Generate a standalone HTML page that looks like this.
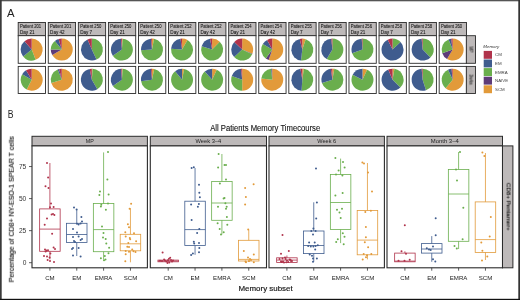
<!DOCTYPE html>
<html><head><meta charset="utf-8"><style>
html,body{margin:0;padding:0;background:#fff;}
body{width:520px;height:300px;overflow:hidden;}
svg{display:block;font-family:"Liberation Sans", sans-serif;}
text{will-change:transform;}
</style></head><body>
<svg width="520" height="300" viewBox="0 0 520 300">
<rect x="0" y="0" width="520" height="300" fill="#fff"/>
<text x="7" y="16.8" font-size="11.3" fill="#222">A</text>
<rect x="18.20" y="22.5" width="27.3" height="13.20" fill="#BDB9B9" stroke="#2b2b2b" stroke-width="0.9"/>
<text x="20.00" y="28.3" font-size="4.6" fill="#111" stroke="#111" stroke-width="0.06" textLength="21.2" lengthAdjust="spacingAndGlyphs">Patient 201</text>
<text x="20.00" y="33.5" font-size="4.6" fill="#111" stroke="#111" stroke-width="0.06">Day 21</text>
<rect x="18.20" y="35.7" width="27.3" height="27.60" fill="#fff" stroke="#2b2b2b" stroke-width="0.9"/>
<rect x="18.20" y="66.4" width="27.3" height="27.10" fill="#fff" stroke="#2b2b2b" stroke-width="0.9"/>
<path d="M31.70,49.60L31.70,38.60A11,11 0 0 1 35.64,59.87Z" fill="#E29A3A"/><path d="M31.70,49.60L35.64,59.87A11,11 0 0 1 23.15,56.52Z" fill="#6AAE4D"/><path d="M31.70,49.60L23.15,56.52A11,11 0 0 1 24.48,41.30Z" fill="#3F5C8E"/><path d="M31.70,49.60L24.48,41.30A11,11 0 0 1 31.70,38.60Z" fill="#B0334B"/>
<path d="M31.70,79.70L31.70,68.70A11,11 0 1 1 26.71,89.50Z" fill="#E29A3A"/><path d="M31.70,79.70L26.71,89.50A11,11 0 0 1 22.17,74.20Z" fill="#6AAE4D"/><path d="M31.70,79.70L22.17,74.20A11,11 0 0 1 26.03,70.27Z" fill="#3F5C8E"/><path d="M31.70,79.70L26.03,70.27A11,11 0 0 1 31.70,68.70Z" fill="#B0334B"/>
<rect x="48.27" y="22.5" width="27.3" height="13.20" fill="#BDB9B9" stroke="#2b2b2b" stroke-width="0.9"/>
<text x="50.07" y="28.3" font-size="4.6" fill="#111" stroke="#111" stroke-width="0.06" textLength="21.2" lengthAdjust="spacingAndGlyphs">Patient 201</text>
<text x="50.07" y="33.5" font-size="4.6" fill="#111" stroke="#111" stroke-width="0.06">Day 42</text>
<rect x="48.27" y="35.7" width="27.3" height="27.60" fill="#fff" stroke="#2b2b2b" stroke-width="0.9"/>
<rect x="48.27" y="66.4" width="27.3" height="27.10" fill="#fff" stroke="#2b2b2b" stroke-width="0.9"/>
<path d="M61.77,49.60L61.77,38.60A11,11 0 1 1 52.24,55.10Z" fill="#E29A3A"/><path d="M61.77,49.60L52.24,55.10A11,11 0 0 1 50.77,49.41Z" fill="#5E3B78"/><path d="M61.77,49.60L50.77,49.41A11,11 0 0 1 54.92,40.99Z" fill="#6AAE4D"/><path d="M61.77,49.60L54.92,40.99A11,11 0 0 1 58.55,39.08Z" fill="#3F5C8E"/><path d="M61.77,49.60L58.55,39.08A11,11 0 0 1 61.77,38.60Z" fill="#B0334B"/>
<path d="M61.77,79.70L61.77,68.70A11,11 0 1 1 51.25,82.92Z" fill="#E29A3A"/><path d="M61.77,79.70L51.25,82.92A11,11 0 0 1 57.65,69.50Z" fill="#6AAE4D"/><path d="M61.77,79.70L57.65,69.50A11,11 0 0 1 59.11,69.03Z" fill="#3F5C8E"/><path d="M61.77,79.70L59.11,69.03A11,11 0 0 1 61.77,68.70Z" fill="#B0334B"/>
<rect x="78.34" y="22.5" width="27.3" height="13.20" fill="#BDB9B9" stroke="#2b2b2b" stroke-width="0.9"/>
<text x="80.14" y="28.3" font-size="4.6" fill="#111" stroke="#111" stroke-width="0.06" textLength="21.2" lengthAdjust="spacingAndGlyphs">Patient 250</text>
<text x="80.14" y="33.5" font-size="4.6" fill="#111" stroke="#111" stroke-width="0.06">Day 7</text>
<rect x="78.34" y="35.7" width="27.3" height="27.60" fill="#fff" stroke="#2b2b2b" stroke-width="0.9"/>
<rect x="78.34" y="66.4" width="27.3" height="27.10" fill="#fff" stroke="#2b2b2b" stroke-width="0.9"/>
<path d="M91.84,49.60L91.84,38.60A11,11 0 0 1 96.49,59.57Z" fill="#6AAE4D"/><path d="M91.84,49.60L96.49,59.57A11,11 0 1 1 87.54,39.47Z" fill="#3F5C8E"/><path d="M91.84,49.60L87.54,39.47A11,11 0 0 1 91.84,38.60Z" fill="#B0334B"/>
<path d="M91.84,79.70L91.84,68.70A11,11 0 0 1 92.61,68.73Z" fill="#E29A3A"/><path d="M91.84,79.70L92.61,68.73A11,11 0 0 1 97.34,89.23Z" fill="#6AAE4D"/><path d="M91.84,79.70L97.34,89.23A11,11 0 1 1 89.74,68.90Z" fill="#3F5C8E"/><path d="M91.84,79.70L89.74,68.90A11,11 0 0 1 91.84,68.70Z" fill="#B0334B"/>
<rect x="108.41" y="22.5" width="27.3" height="13.20" fill="#BDB9B9" stroke="#2b2b2b" stroke-width="0.9"/>
<text x="110.21" y="28.3" font-size="4.6" fill="#111" stroke="#111" stroke-width="0.06" textLength="21.2" lengthAdjust="spacingAndGlyphs">Patient 250</text>
<text x="110.21" y="33.5" font-size="4.6" fill="#111" stroke="#111" stroke-width="0.06">Day 21</text>
<rect x="108.41" y="35.7" width="27.3" height="27.60" fill="#fff" stroke="#2b2b2b" stroke-width="0.9"/>
<rect x="108.41" y="66.4" width="27.3" height="27.10" fill="#fff" stroke="#2b2b2b" stroke-width="0.9"/>
<path d="M121.91,49.60L121.91,38.60A11,11 0 0 1 122.68,38.63Z" fill="#E29A3A"/><path d="M121.91,49.60L122.68,38.63A11,11 0 1 1 112.79,55.75Z" fill="#6AAE4D"/><path d="M121.91,49.60L112.79,55.75A11,11 0 0 1 120.95,38.64Z" fill="#3F5C8E"/><path d="M121.91,49.60L120.95,38.64A11,11 0 0 1 121.91,38.60Z" fill="#B0334B"/>
<path d="M121.91,79.70L121.91,68.70A11,11 0 0 1 122.68,68.73Z" fill="#E29A3A"/><path d="M121.91,79.70L122.68,68.73A11,11 0 1 1 112.90,86.01Z" fill="#6AAE4D"/><path d="M121.91,79.70L112.90,86.01A11,11 0 0 1 121.14,68.73Z" fill="#3F5C8E"/><path d="M121.91,79.70L121.14,68.73A11,11 0 0 1 121.91,68.70Z" fill="#B0334B"/>
<rect x="138.48" y="22.5" width="27.3" height="13.20" fill="#BDB9B9" stroke="#2b2b2b" stroke-width="0.9"/>
<text x="140.28" y="28.3" font-size="4.6" fill="#111" stroke="#111" stroke-width="0.06" textLength="21.2" lengthAdjust="spacingAndGlyphs">Patient 250</text>
<text x="140.28" y="33.5" font-size="4.6" fill="#111" stroke="#111" stroke-width="0.06">Day 42</text>
<rect x="138.48" y="35.7" width="27.3" height="27.60" fill="#fff" stroke="#2b2b2b" stroke-width="0.9"/>
<rect x="138.48" y="66.4" width="27.3" height="27.10" fill="#fff" stroke="#2b2b2b" stroke-width="0.9"/>
<path d="M151.98,49.60L151.98,38.60A11,11 0 0 1 154.08,38.80Z" fill="#E29A3A"/><path d="M151.98,49.60L154.08,38.80A11,11 0 1 1 141.01,50.37Z" fill="#6AAE4D"/><path d="M151.98,49.60L141.01,50.37A11,11 0 0 1 151.02,38.64Z" fill="#3F5C8E"/><path d="M151.98,49.60L151.02,38.64A11,11 0 0 1 151.98,38.60Z" fill="#B0334B"/>
<path d="M151.98,79.70L151.98,68.70A11,11 0 0 1 154.27,68.94Z" fill="#E29A3A"/><path d="M151.98,79.70L154.27,68.94A11,11 0 1 1 141.09,81.23Z" fill="#6AAE4D"/><path d="M151.98,79.70L141.09,81.23A11,11 0 0 1 151.02,68.74Z" fill="#3F5C8E"/><path d="M151.98,79.70L151.02,68.74A11,11 0 0 1 151.98,68.70Z" fill="#B0334B"/>
<rect x="168.55" y="22.5" width="27.3" height="13.20" fill="#BDB9B9" stroke="#2b2b2b" stroke-width="0.9"/>
<text x="170.35" y="28.3" font-size="4.6" fill="#111" stroke="#111" stroke-width="0.06" textLength="21.2" lengthAdjust="spacingAndGlyphs">Patient 252</text>
<text x="170.35" y="33.5" font-size="4.6" fill="#111" stroke="#111" stroke-width="0.06">Day 21</text>
<rect x="168.55" y="35.7" width="27.3" height="27.60" fill="#fff" stroke="#2b2b2b" stroke-width="0.9"/>
<rect x="168.55" y="66.4" width="27.3" height="27.10" fill="#fff" stroke="#2b2b2b" stroke-width="0.9"/>
<path d="M182.05,49.60L182.05,38.60A11,11 0 0 1 187.55,40.07Z" fill="#E29A3A"/><path d="M182.05,49.60L187.55,40.07A11,11 0 1 1 171.08,48.83Z" fill="#6AAE4D"/><path d="M182.05,49.60L171.08,48.83A11,11 0 0 1 180.52,38.71Z" fill="#3F5C8E"/><path d="M182.05,49.60L180.52,38.71A11,11 0 0 1 182.05,38.60Z" fill="#B0334B"/>
<path d="M182.05,79.70L182.05,68.70A11,11 0 0 1 184.15,68.90Z" fill="#E29A3A"/><path d="M182.05,79.70L184.15,68.90A11,11 0 1 1 175.13,71.15Z" fill="#6AAE4D"/><path d="M182.05,79.70L175.13,71.15A11,11 0 0 1 182.05,68.70Z" fill="#3F5C8E"/>
<rect x="198.62" y="22.5" width="27.3" height="13.20" fill="#BDB9B9" stroke="#2b2b2b" stroke-width="0.9"/>
<text x="200.42" y="28.3" font-size="4.6" fill="#111" stroke="#111" stroke-width="0.06" textLength="21.2" lengthAdjust="spacingAndGlyphs">Patient 252</text>
<text x="200.42" y="33.5" font-size="4.6" fill="#111" stroke="#111" stroke-width="0.06">Day 42</text>
<rect x="198.62" y="35.7" width="27.3" height="27.60" fill="#fff" stroke="#2b2b2b" stroke-width="0.9"/>
<rect x="198.62" y="66.4" width="27.3" height="27.10" fill="#fff" stroke="#2b2b2b" stroke-width="0.9"/>
<path d="M212.12,49.60L212.12,38.60A11,11 0 0 1 219.76,41.69Z" fill="#E29A3A"/><path d="M212.12,49.60L219.76,41.69A11,11 0 1 1 201.66,46.20Z" fill="#6AAE4D"/><path d="M212.12,49.60L201.66,46.20A11,11 0 0 1 210.02,38.80Z" fill="#3F5C8E"/><path d="M212.12,49.60L210.02,38.80A11,11 0 0 1 212.12,38.60Z" fill="#B0334B"/>
<path d="M212.12,79.70L212.12,68.70A11,11 0 0 1 216.77,69.73Z" fill="#E29A3A"/><path d="M212.12,79.70L216.77,69.73A11,11 0 1 1 204.76,71.53Z" fill="#6AAE4D"/><path d="M212.12,79.70L204.76,71.53A11,11 0 0 1 212.12,68.70Z" fill="#3F5C8E"/>
<rect x="228.69" y="22.5" width="27.3" height="13.20" fill="#BDB9B9" stroke="#2b2b2b" stroke-width="0.9"/>
<text x="230.49" y="28.3" font-size="4.6" fill="#111" stroke="#111" stroke-width="0.06" textLength="21.2" lengthAdjust="spacingAndGlyphs">Patient 254</text>
<text x="230.49" y="33.5" font-size="4.6" fill="#111" stroke="#111" stroke-width="0.06">Day 21</text>
<rect x="228.69" y="35.7" width="27.3" height="27.60" fill="#fff" stroke="#2b2b2b" stroke-width="0.9"/>
<rect x="228.69" y="66.4" width="27.3" height="27.10" fill="#fff" stroke="#2b2b2b" stroke-width="0.9"/>
<path d="M242.19,49.60L242.19,38.60A11,11 0 0 1 252.39,53.72Z" fill="#E29A3A"/><path d="M242.19,49.60L252.39,53.72A11,11 0 0 1 252.16,54.25Z" fill="#5E3B78"/><path d="M242.19,49.60L252.16,54.25A11,11 0 0 1 234.15,57.10Z" fill="#6AAE4D"/><path d="M242.19,49.60L234.15,57.10A11,11 0 0 1 234.28,41.96Z" fill="#3F5C8E"/><path d="M242.19,49.60L234.28,41.96A11,11 0 0 1 242.19,38.60Z" fill="#B0334B"/>
<path d="M242.19,79.70L242.19,68.70A11,11 0 0 1 242.19,90.70Z" fill="#E29A3A"/><path d="M242.19,79.70L242.19,90.70A11,11 0 0 1 231.79,76.12Z" fill="#6AAE4D"/><path d="M242.19,79.70L231.79,76.12A11,11 0 0 1 241.04,68.76Z" fill="#3F5C8E"/><path d="M242.19,79.70L241.04,68.76A11,11 0 0 1 242.19,68.70Z" fill="#B0334B"/>
<rect x="258.76" y="22.5" width="27.3" height="13.20" fill="#BDB9B9" stroke="#2b2b2b" stroke-width="0.9"/>
<text x="260.56" y="28.3" font-size="4.6" fill="#111" stroke="#111" stroke-width="0.06" textLength="21.2" lengthAdjust="spacingAndGlyphs">Patient 254</text>
<text x="260.56" y="33.5" font-size="4.6" fill="#111" stroke="#111" stroke-width="0.06">Day 42</text>
<rect x="258.76" y="35.7" width="27.3" height="27.60" fill="#fff" stroke="#2b2b2b" stroke-width="0.9"/>
<rect x="258.76" y="66.4" width="27.3" height="27.10" fill="#fff" stroke="#2b2b2b" stroke-width="0.9"/>
<path d="M272.26,49.60L272.26,38.60A11,11 0 1 1 268.68,60.00Z" fill="#E29A3A"/><path d="M272.26,49.60L268.68,60.00A11,11 0 0 1 265.79,58.50Z" fill="#5E3B78"/><path d="M272.26,49.60L265.79,58.50A11,11 0 0 1 262.83,43.93Z" fill="#6AAE4D"/><path d="M272.26,49.60L262.83,43.93A11,11 0 0 1 267.10,39.89Z" fill="#3F5C8E"/><path d="M272.26,49.60L267.10,39.89A11,11 0 0 1 272.26,38.60Z" fill="#B0334B"/>
<path d="M272.26,79.70L272.26,68.70A11,11 0 1 1 261.32,78.55Z" fill="#E29A3A"/><path d="M272.26,79.70L261.32,78.55A11,11 0 0 1 271.11,68.76Z" fill="#6AAE4D"/><path d="M272.26,79.70L271.11,68.76A11,11 0 0 1 271.88,68.71Z" fill="#3F5C8E"/><path d="M272.26,79.70L271.88,68.71A11,11 0 0 1 272.26,68.70Z" fill="#B0334B"/>
<rect x="288.83" y="22.5" width="27.3" height="13.20" fill="#BDB9B9" stroke="#2b2b2b" stroke-width="0.9"/>
<text x="290.63" y="28.3" font-size="4.6" fill="#111" stroke="#111" stroke-width="0.06" textLength="21.2" lengthAdjust="spacingAndGlyphs">Patient 255</text>
<text x="290.63" y="33.5" font-size="4.6" fill="#111" stroke="#111" stroke-width="0.06">Day 7</text>
<rect x="288.83" y="35.7" width="27.3" height="27.60" fill="#fff" stroke="#2b2b2b" stroke-width="0.9"/>
<rect x="288.83" y="66.4" width="27.3" height="27.10" fill="#fff" stroke="#2b2b2b" stroke-width="0.9"/>
<path d="M302.33,49.60L302.33,38.60A11,11 0 0 1 305.73,39.14Z" fill="#E29A3A"/><path d="M302.33,49.60L305.73,39.14A11,11 0 0 1 300.99,60.52Z" fill="#6AAE4D"/><path d="M302.33,49.60L300.99,60.52A11,11 0 0 1 299.67,38.93Z" fill="#3F5C8E"/><path d="M302.33,49.60L299.67,38.93A11,11 0 0 1 302.33,38.60Z" fill="#B0334B"/>
<path d="M302.33,79.70L302.33,68.70A11,11 0 0 1 303.86,68.81Z" fill="#E29A3A"/><path d="M302.33,79.70L303.86,68.81A11,11 0 0 1 301.56,90.67Z" fill="#6AAE4D"/><path d="M302.33,79.70L301.56,90.67A11,11 0 0 1 300.42,68.87Z" fill="#3F5C8E"/><path d="M302.33,79.70L300.42,68.87A11,11 0 0 1 302.33,68.70Z" fill="#B0334B"/>
<rect x="318.90" y="22.5" width="27.3" height="13.20" fill="#BDB9B9" stroke="#2b2b2b" stroke-width="0.9"/>
<text x="320.70" y="28.3" font-size="4.6" fill="#111" stroke="#111" stroke-width="0.06" textLength="21.2" lengthAdjust="spacingAndGlyphs">Patient 256</text>
<text x="320.70" y="33.5" font-size="4.6" fill="#111" stroke="#111" stroke-width="0.06">Day 7</text>
<rect x="318.90" y="35.7" width="27.3" height="27.60" fill="#fff" stroke="#2b2b2b" stroke-width="0.9"/>
<rect x="318.90" y="66.4" width="27.3" height="27.10" fill="#fff" stroke="#2b2b2b" stroke-width="0.9"/>
<path d="M332.40,49.60L332.40,38.60A11,11 0 1 1 326.73,59.03Z" fill="#6AAE4D"/><path d="M332.40,49.60L326.73,59.03A11,11 0 0 1 331.25,38.66Z" fill="#3F5C8E"/><path d="M332.40,49.60L331.25,38.66A11,11 0 0 1 332.40,38.60Z" fill="#B0334B"/>
<path d="M332.40,79.70L332.40,68.70A11,11 0 0 1 334.31,68.87Z" fill="#E29A3A"/><path d="M332.40,79.70L334.31,68.87A11,11 0 1 1 321.94,83.10Z" fill="#6AAE4D"/><path d="M332.40,79.70L321.94,83.10A11,11 0 0 1 330.87,68.81Z" fill="#3F5C8E"/><path d="M332.40,79.70L330.87,68.81A11,11 0 0 1 332.40,68.70Z" fill="#B0334B"/>
<rect x="348.97" y="22.5" width="27.3" height="13.20" fill="#BDB9B9" stroke="#2b2b2b" stroke-width="0.9"/>
<text x="350.77" y="28.3" font-size="4.6" fill="#111" stroke="#111" stroke-width="0.06" textLength="21.2" lengthAdjust="spacingAndGlyphs">Patient 256</text>
<text x="350.77" y="33.5" font-size="4.6" fill="#111" stroke="#111" stroke-width="0.06">Day 21</text>
<rect x="348.97" y="35.7" width="27.3" height="27.60" fill="#fff" stroke="#2b2b2b" stroke-width="0.9"/>
<rect x="348.97" y="66.4" width="27.3" height="27.10" fill="#fff" stroke="#2b2b2b" stroke-width="0.9"/>
<path d="M362.47,49.60L362.47,38.60A11,11 0 1 1 352.07,53.18Z" fill="#6AAE4D"/><path d="M362.47,49.60L352.07,53.18A11,11 0 0 1 361.70,38.63Z" fill="#3F5C8E"/><path d="M362.47,49.60L361.70,38.63A11,11 0 0 1 362.47,38.60Z" fill="#B0334B"/>
<path d="M362.47,79.70L362.47,68.70A11,11 0 0 1 367.12,69.73Z" fill="#E29A3A"/><path d="M362.47,79.70L367.12,69.73A11,11 0 1 1 352.67,74.71Z" fill="#6AAE4D"/><path d="M362.47,79.70L352.67,74.71A11,11 0 0 1 362.47,68.70Z" fill="#3F5C8E"/>
<rect x="379.04" y="22.5" width="27.3" height="13.20" fill="#BDB9B9" stroke="#2b2b2b" stroke-width="0.9"/>
<text x="380.84" y="28.3" font-size="4.6" fill="#111" stroke="#111" stroke-width="0.06" textLength="21.2" lengthAdjust="spacingAndGlyphs">Patient 258</text>
<text x="380.84" y="33.5" font-size="4.6" fill="#111" stroke="#111" stroke-width="0.06">Day 7</text>
<rect x="379.04" y="35.7" width="27.3" height="27.60" fill="#fff" stroke="#2b2b2b" stroke-width="0.9"/>
<rect x="379.04" y="66.4" width="27.3" height="27.10" fill="#fff" stroke="#2b2b2b" stroke-width="0.9"/>
<path d="M392.54,49.60L392.54,38.60A11,11 0 0 1 400.58,42.10Z" fill="#6AAE4D"/><path d="M392.54,49.60L400.58,42.10A11,11 0 1 1 387.72,39.71Z" fill="#3F5C8E"/><path d="M392.54,49.60L387.72,39.71A11,11 0 0 1 392.54,38.60Z" fill="#B0334B"/>
<path d="M392.54,79.70L392.54,68.70A11,11 0 0 1 394.45,68.87Z" fill="#E29A3A"/><path d="M392.54,79.70L394.45,68.87A11,11 0 0 1 400.32,87.48Z" fill="#6AAE4D"/><path d="M392.54,79.70L400.32,87.48A11,11 0 1 1 388.24,69.57Z" fill="#3F5C8E"/><path d="M392.54,79.70L388.24,69.57A11,11 0 0 1 392.54,68.70Z" fill="#B0334B"/>
<rect x="409.11" y="22.5" width="27.3" height="13.20" fill="#BDB9B9" stroke="#2b2b2b" stroke-width="0.9"/>
<text x="410.91" y="28.3" font-size="4.6" fill="#111" stroke="#111" stroke-width="0.06" textLength="21.2" lengthAdjust="spacingAndGlyphs">Patient 258</text>
<text x="410.91" y="33.5" font-size="4.6" fill="#111" stroke="#111" stroke-width="0.06">Day 21</text>
<rect x="409.11" y="35.7" width="27.3" height="27.60" fill="#fff" stroke="#2b2b2b" stroke-width="0.9"/>
<rect x="409.11" y="66.4" width="27.3" height="27.10" fill="#fff" stroke="#2b2b2b" stroke-width="0.9"/>
<path d="M422.61,49.60L422.61,38.60A11,11 0 0 1 430.39,57.38Z" fill="#6AAE4D"/><path d="M422.61,49.60L430.39,57.38A11,11 0 1 1 421.65,38.64Z" fill="#3F5C8E"/><path d="M422.61,49.60L421.65,38.64A11,11 0 0 1 422.61,38.60Z" fill="#B0334B"/>
<path d="M422.61,79.70L422.61,68.70A11,11 0 0 1 426.01,90.16Z" fill="#6AAE4D"/><path d="M422.61,79.70L426.01,90.16A11,11 0 1 1 421.65,68.74Z" fill="#3F5C8E"/><path d="M422.61,79.70L421.65,68.74A11,11 0 0 1 422.61,68.70Z" fill="#B0334B"/>
<rect x="439.18" y="22.5" width="27.3" height="13.20" fill="#BDB9B9" stroke="#2b2b2b" stroke-width="0.9"/>
<text x="440.98" y="28.3" font-size="4.6" fill="#111" stroke="#111" stroke-width="0.06" textLength="21.2" lengthAdjust="spacingAndGlyphs">Patient 260</text>
<text x="440.98" y="33.5" font-size="4.6" fill="#111" stroke="#111" stroke-width="0.06">Day 21</text>
<rect x="439.18" y="35.7" width="27.3" height="27.60" fill="#fff" stroke="#2b2b2b" stroke-width="0.9"/>
<rect x="439.18" y="66.4" width="27.3" height="27.10" fill="#fff" stroke="#2b2b2b" stroke-width="0.9"/>
<path d="M452.68,49.60L452.68,38.60A11,11 0 1 1 447.01,59.03Z" fill="#E29A3A"/><path d="M452.68,49.60L447.01,59.03A11,11 0 0 1 442.28,53.18Z" fill="#5E3B78"/><path d="M452.68,49.60L442.28,53.18A11,11 0 0 1 448.56,39.40Z" fill="#6AAE4D"/><path d="M452.68,49.60L448.56,39.40A11,11 0 0 1 451.15,38.71Z" fill="#3F5C8E"/><path d="M452.68,49.60L451.15,38.71A11,11 0 0 1 452.68,38.60Z" fill="#B0334B"/>
<path d="M452.68,79.70L452.68,68.70A11,11 0 1 1 445.61,88.13Z" fill="#E29A3A"/><path d="M452.68,79.70L445.61,88.13A11,11 0 0 1 448.03,69.73Z" fill="#6AAE4D"/><path d="M452.68,79.70L448.03,69.73A11,11 0 0 1 451.53,68.76Z" fill="#3F5C8E"/><path d="M452.68,79.70L451.53,68.76A11,11 0 0 1 452.68,68.70Z" fill="#B0334B"/>
<rect x="466.3" y="35.7" width="9.2" height="27.60" fill="#BDB9B9" stroke="#2b2b2b" stroke-width="0.9"/>
<rect x="466.3" y="66.4" width="9.2" height="27.10" fill="#BDB9B9" stroke="#2b2b2b" stroke-width="0.9"/>
<text transform="translate(469.4,49.5) rotate(90)" font-size="4.6" fill="#333" stroke="#333" stroke-width="0.1" text-anchor="middle" textLength="6" lengthAdjust="spacingAndGlyphs">MP</text>
<text transform="translate(469.4,79.5) rotate(90)" font-size="4.6" fill="#333" stroke="#333" stroke-width="0.1" text-anchor="middle" textLength="10.5" lengthAdjust="spacingAndGlyphs">3wks</text>
<text x="483.3" y="48.2" font-size="4.4" font-style="italic" fill="#333">Memory</text>
<rect x="483.7" y="50.90" width="8.3" height="7.9" fill="#B0334B"/>
<text x="495.0" y="56.40" font-size="4.4" fill="#444">CM</text>
<rect x="483.7" y="59.50" width="8.3" height="7.9" fill="#3F5C8E"/>
<text x="495.0" y="65.00" font-size="4.4" fill="#444">EM</text>
<rect x="483.7" y="68.10" width="8.3" height="7.9" fill="#6AAE4D"/>
<text x="495.0" y="73.60" font-size="4.4" fill="#444">EMRA</text>
<rect x="483.7" y="76.70" width="8.3" height="7.9" fill="#5E3B78"/>
<text x="495.0" y="82.20" font-size="4.4" fill="#444">NAIVE</text>
<rect x="483.7" y="85.30" width="8.3" height="7.9" fill="#E29A3A"/>
<text x="495.0" y="90.80" font-size="4.4" fill="#444">SCM</text>
<text x="7.8" y="118.1" font-size="11.3" fill="#222" textLength="5.8" lengthAdjust="spacingAndGlyphs">B</text>
<text x="210.2" y="131" font-size="9" fill="#111" stroke="#111" stroke-width="0.12" textLength="110" lengthAdjust="spacingAndGlyphs">All Patients Memory Timecourse</text>
<rect x="32.0" y="136.3" width="115.4" height="9.60" fill="#BDB9B9" stroke="#2b2b2b" stroke-width="1"/>
<text x="89.70" y="143.1" font-size="5.9" fill="#222" text-anchor="middle" textLength="8.0" lengthAdjust="spacingAndGlyphs">MP</text>
<rect x="32.0" y="145.9" width="115.4" height="121.90" fill="#fff" stroke="#2b2b2b" stroke-width="1.1"/>
<rect x="150.3" y="136.3" width="116.2" height="9.60" fill="#BDB9B9" stroke="#2b2b2b" stroke-width="1"/>
<text x="208.40" y="143.1" font-size="5.9" fill="#222" text-anchor="middle" textLength="25.7" lengthAdjust="spacingAndGlyphs">Week 3–4</text>
<rect x="150.3" y="145.9" width="116.2" height="121.90" fill="#fff" stroke="#2b2b2b" stroke-width="1.1"/>
<rect x="269.0" y="136.3" width="115.4" height="9.60" fill="#BDB9B9" stroke="#2b2b2b" stroke-width="1"/>
<text x="326.70" y="143.1" font-size="5.9" fill="#222" text-anchor="middle" textLength="18.9" lengthAdjust="spacingAndGlyphs">Week 6</text>
<rect x="269.0" y="145.9" width="115.4" height="121.90" fill="#fff" stroke="#2b2b2b" stroke-width="1.1"/>
<rect x="387.0" y="136.3" width="115.5" height="9.60" fill="#BDB9B9" stroke="#2b2b2b" stroke-width="1"/>
<text x="444.75" y="143.1" font-size="5.9" fill="#222" text-anchor="middle" textLength="28.0" lengthAdjust="spacingAndGlyphs">Month 3–4</text>
<rect x="387.0" y="145.9" width="115.5" height="121.90" fill="#fff" stroke="#2b2b2b" stroke-width="1.1"/>
<rect x="502.5" y="145.9" width="10.4" height="121.90" fill="#BDB9B9" stroke="#2b2b2b" stroke-width="1"/>
<text transform="translate(506.6,206.8) rotate(90)" font-size="4.9" fill="#111" stroke="#111" stroke-width="0.12" text-anchor="middle" textLength="47.8" lengthAdjust="spacingAndGlyphs">CD8+ Pentamer+</text>
<line x1="29" y1="262.70" x2="32" y2="262.70" stroke="#333" stroke-width="0.8"/>
<text x="26.3" y="265.00" font-size="6.6" fill="#333" text-anchor="end">0</text>
<line x1="29" y1="230.65" x2="32" y2="230.65" stroke="#333" stroke-width="0.8"/>
<text x="26.3" y="232.95" font-size="6.6" fill="#333" text-anchor="end">25</text>
<line x1="29" y1="198.60" x2="32" y2="198.60" stroke="#333" stroke-width="0.8"/>
<text x="26.3" y="200.90" font-size="6.6" fill="#333" text-anchor="end">50</text>
<line x1="29" y1="166.55" x2="32" y2="166.55" stroke="#333" stroke-width="0.8"/>
<text x="26.3" y="168.85" font-size="6.6" fill="#333" text-anchor="end">75</text>
<text transform="translate(13.8,209.3) rotate(-90)" font-size="8.1" fill="#111" stroke="#111" stroke-width="0.18" text-anchor="middle" textLength="146" lengthAdjust="spacingAndGlyphs">Percentage of CD8+ NY-ESO-1 SPEAR T cells</text>
<text x="265.6" y="290.6" font-size="7.7" fill="#111" stroke="#111" stroke-width="0.15" text-anchor="middle" textLength="54.2" lengthAdjust="spacingAndGlyphs">Memory subset</text>
<line x1="49.90" y1="267.8" x2="49.90" y2="270.7" stroke="#333" stroke-width="0.8"/>
<text x="49.90" y="279.9" font-size="6.1" fill="#222" text-anchor="middle">CM</text>
<line x1="76.75" y1="267.8" x2="76.75" y2="270.7" stroke="#333" stroke-width="0.8"/>
<text x="76.75" y="279.9" font-size="6.1" fill="#222" text-anchor="middle">EM</text>
<line x1="103.60" y1="267.8" x2="103.60" y2="270.7" stroke="#333" stroke-width="0.8"/>
<text x="103.60" y="279.9" font-size="6.1" fill="#222" text-anchor="middle">EMRA</text>
<line x1="130.45" y1="267.8" x2="130.45" y2="270.7" stroke="#333" stroke-width="0.8"/>
<text x="130.45" y="279.9" font-size="6.1" fill="#222" text-anchor="middle">SCM</text>
<line x1="168.20" y1="267.8" x2="168.20" y2="270.7" stroke="#333" stroke-width="0.8"/>
<text x="168.20" y="279.9" font-size="6.1" fill="#222" text-anchor="middle">CM</text>
<line x1="195.05" y1="267.8" x2="195.05" y2="270.7" stroke="#333" stroke-width="0.8"/>
<text x="195.05" y="279.9" font-size="6.1" fill="#222" text-anchor="middle">EM</text>
<line x1="221.90" y1="267.8" x2="221.90" y2="270.7" stroke="#333" stroke-width="0.8"/>
<text x="221.90" y="279.9" font-size="6.1" fill="#222" text-anchor="middle">EMRA</text>
<line x1="248.75" y1="267.8" x2="248.75" y2="270.7" stroke="#333" stroke-width="0.8"/>
<text x="248.75" y="279.9" font-size="6.1" fill="#222" text-anchor="middle">SCM</text>
<line x1="286.90" y1="267.8" x2="286.90" y2="270.7" stroke="#333" stroke-width="0.8"/>
<text x="286.90" y="279.9" font-size="6.1" fill="#222" text-anchor="middle">CM</text>
<line x1="313.75" y1="267.8" x2="313.75" y2="270.7" stroke="#333" stroke-width="0.8"/>
<text x="313.75" y="279.9" font-size="6.1" fill="#222" text-anchor="middle">EM</text>
<line x1="340.60" y1="267.8" x2="340.60" y2="270.7" stroke="#333" stroke-width="0.8"/>
<text x="340.60" y="279.9" font-size="6.1" fill="#222" text-anchor="middle">EMRA</text>
<line x1="367.45" y1="267.8" x2="367.45" y2="270.7" stroke="#333" stroke-width="0.8"/>
<text x="367.45" y="279.9" font-size="6.1" fill="#222" text-anchor="middle">SCM</text>
<line x1="404.90" y1="267.8" x2="404.90" y2="270.7" stroke="#333" stroke-width="0.8"/>
<text x="404.90" y="279.9" font-size="6.1" fill="#222" text-anchor="middle">CM</text>
<line x1="431.75" y1="267.8" x2="431.75" y2="270.7" stroke="#333" stroke-width="0.8"/>
<text x="431.75" y="279.9" font-size="6.1" fill="#222" text-anchor="middle">EM</text>
<line x1="458.60" y1="267.8" x2="458.60" y2="270.7" stroke="#333" stroke-width="0.8"/>
<text x="458.60" y="279.9" font-size="6.1" fill="#222" text-anchor="middle">EMRA</text>
<line x1="485.45" y1="267.8" x2="485.45" y2="270.7" stroke="#333" stroke-width="0.8"/>
<text x="485.45" y="279.9" font-size="6.1" fill="#222" text-anchor="middle">SCM</text>
<line x1="49.90" y1="163" x2="49.90" y2="208.9" stroke="#B0334B" stroke-width="0.8"/>
<line x1="49.90" y1="251.3" x2="49.90" y2="259.4" stroke="#B0334B" stroke-width="0.8"/>
<rect x="39.65" y="208.9" width="20.5" height="42.40" fill="none" stroke="#B0334B" stroke-width="0.8"/>
<line x1="39.65" y1="229.1" x2="60.15" y2="229.1" stroke="#B0334B" stroke-width="0.8"/>
<line x1="76.75" y1="209.3" x2="76.75" y2="223.3" stroke="#3F5C8E" stroke-width="0.8"/>
<line x1="76.75" y1="242.4" x2="76.75" y2="256" stroke="#3F5C8E" stroke-width="0.8"/>
<rect x="66.50" y="223.3" width="20.5" height="19.10" fill="none" stroke="#3F5C8E" stroke-width="0.8"/>
<line x1="66.50" y1="234.5" x2="87.00" y2="234.5" stroke="#3F5C8E" stroke-width="0.8"/>
<line x1="103.60" y1="152.4" x2="103.60" y2="203.5" stroke="#6AAE4D" stroke-width="0.8"/>
<line x1="103.60" y1="251.7" x2="103.60" y2="259.4" stroke="#6AAE4D" stroke-width="0.8"/>
<rect x="93.35" y="203.5" width="20.5" height="48.20" fill="none" stroke="#6AAE4D" stroke-width="0.8"/>
<line x1="93.35" y1="229.6" x2="113.85" y2="229.6" stroke="#6AAE4D" stroke-width="0.8"/>
<line x1="130.45" y1="208.2" x2="130.45" y2="234.3" stroke="#E29A3A" stroke-width="0.8"/>
<line x1="130.45" y1="250.8" x2="130.45" y2="262.3" stroke="#E29A3A" stroke-width="0.8"/>
<rect x="120.20" y="234.3" width="20.5" height="16.50" fill="none" stroke="#E29A3A" stroke-width="0.8"/>
<line x1="120.20" y1="243.8" x2="140.70" y2="243.8" stroke="#E29A3A" stroke-width="0.8"/>
<line x1="168.20" y1="259.5" x2="168.20" y2="260.1" stroke="#B0334B" stroke-width="0.8"/>
<line x1="168.20" y1="261.8" x2="168.20" y2="262.4" stroke="#B0334B" stroke-width="0.8"/>
<rect x="157.95" y="260.1" width="20.5" height="1.70" fill="none" stroke="#B0334B" stroke-width="0.8"/>
<line x1="157.95" y1="261" x2="178.45" y2="261" stroke="#B0334B" stroke-width="0.8"/>
<line x1="195.05" y1="168" x2="195.05" y2="201.2" stroke="#3F5C8E" stroke-width="0.8"/>
<line x1="195.05" y1="245.5" x2="195.05" y2="254.8" stroke="#3F5C8E" stroke-width="0.8"/>
<rect x="184.80" y="201.2" width="20.5" height="44.30" fill="none" stroke="#3F5C8E" stroke-width="0.8"/>
<line x1="184.80" y1="229.6" x2="205.30" y2="229.6" stroke="#3F5C8E" stroke-width="0.8"/>
<line x1="221.90" y1="154" x2="221.90" y2="181.4" stroke="#6AAE4D" stroke-width="0.8"/>
<line x1="221.90" y1="220.3" x2="221.90" y2="234.5" stroke="#6AAE4D" stroke-width="0.8"/>
<rect x="211.65" y="181.4" width="20.5" height="38.90" fill="none" stroke="#6AAE4D" stroke-width="0.8"/>
<line x1="211.65" y1="203" x2="232.15" y2="203" stroke="#6AAE4D" stroke-width="0.8"/>
<line x1="248.75" y1="229.8" x2="248.75" y2="240.3" stroke="#E29A3A" stroke-width="0.8"/>
<line x1="248.75" y1="261" x2="248.75" y2="262" stroke="#E29A3A" stroke-width="0.8"/>
<rect x="238.50" y="240.3" width="20.5" height="20.70" fill="none" stroke="#E29A3A" stroke-width="0.8"/>
<line x1="238.50" y1="259.4" x2="259.00" y2="259.4" stroke="#E29A3A" stroke-width="0.8"/>
<line x1="286.90" y1="255.5" x2="286.90" y2="257.8" stroke="#B0334B" stroke-width="0.8"/>
<line x1="286.90" y1="262.5" x2="286.90" y2="262.6" stroke="#B0334B" stroke-width="0.8"/>
<rect x="276.65" y="257.8" width="20.5" height="4.70" fill="none" stroke="#B0334B" stroke-width="0.8"/>
<line x1="276.65" y1="260.1" x2="297.15" y2="260.1" stroke="#B0334B" stroke-width="0.8"/>
<line x1="313.75" y1="202.3" x2="313.75" y2="231" stroke="#3F5C8E" stroke-width="0.8"/>
<line x1="313.75" y1="253.6" x2="313.75" y2="261.8" stroke="#3F5C8E" stroke-width="0.8"/>
<rect x="303.50" y="231" width="20.5" height="22.60" fill="none" stroke="#3F5C8E" stroke-width="0.8"/>
<line x1="303.50" y1="245.5" x2="324.00" y2="245.5" stroke="#3F5C8E" stroke-width="0.8"/>
<line x1="340.60" y1="158.6" x2="340.60" y2="174.4" stroke="#6AAE4D" stroke-width="0.8"/>
<line x1="340.60" y1="229.6" x2="340.60" y2="243.1" stroke="#6AAE4D" stroke-width="0.8"/>
<rect x="330.35" y="174.4" width="20.5" height="55.20" fill="none" stroke="#6AAE4D" stroke-width="0.8"/>
<line x1="330.35" y1="202.5" x2="350.85" y2="202.5" stroke="#6AAE4D" stroke-width="0.8"/>
<line x1="367.45" y1="163" x2="367.45" y2="210.5" stroke="#E29A3A" stroke-width="0.8"/>
<line x1="367.45" y1="254.8" x2="367.45" y2="259.4" stroke="#E29A3A" stroke-width="0.8"/>
<rect x="357.20" y="210.5" width="20.5" height="44.30" fill="none" stroke="#E29A3A" stroke-width="0.8"/>
<line x1="357.20" y1="240.1" x2="377.70" y2="240.1" stroke="#E29A3A" stroke-width="0.8"/>
<line x1="404.90" y1="251.3" x2="404.90" y2="253.1" stroke="#B0334B" stroke-width="0.8"/>
<line x1="404.90" y1="261.8" x2="404.90" y2="262" stroke="#B0334B" stroke-width="0.8"/>
<rect x="394.65" y="253.1" width="20.5" height="8.70" fill="none" stroke="#B0334B" stroke-width="0.8"/>
<line x1="394.65" y1="261.1" x2="415.15" y2="261.1" stroke="#B0334B" stroke-width="0.8"/>
<line x1="431.75" y1="236.1" x2="431.75" y2="243.6" stroke="#3F5C8E" stroke-width="0.8"/>
<line x1="431.75" y1="253.1" x2="431.75" y2="261.8" stroke="#3F5C8E" stroke-width="0.8"/>
<rect x="421.50" y="243.6" width="20.5" height="9.50" fill="none" stroke="#3F5C8E" stroke-width="0.8"/>
<line x1="421.50" y1="249" x2="442.00" y2="249" stroke="#3F5C8E" stroke-width="0.8"/>
<line x1="458.60" y1="152" x2="458.60" y2="169.4" stroke="#6AAE4D" stroke-width="0.8"/>
<line x1="458.60" y1="241.3" x2="458.60" y2="249" stroke="#6AAE4D" stroke-width="0.8"/>
<rect x="448.35" y="169.4" width="20.5" height="71.90" fill="none" stroke="#6AAE4D" stroke-width="0.8"/>
<line x1="448.35" y1="194" x2="468.85" y2="194" stroke="#6AAE4D" stroke-width="0.8"/>
<line x1="485.45" y1="153" x2="485.45" y2="201.9" stroke="#E29A3A" stroke-width="0.8"/>
<line x1="485.45" y1="252.4" x2="485.45" y2="260" stroke="#E29A3A" stroke-width="0.8"/>
<rect x="475.20" y="201.9" width="20.5" height="50.50" fill="none" stroke="#E29A3A" stroke-width="0.8"/>
<line x1="475.20" y1="239.6" x2="495.70" y2="239.6" stroke="#E29A3A" stroke-width="0.8"/>
<circle cx="47" cy="162.9" r="1.0" fill="#B0334B"/>
<circle cx="48.1" cy="177.4" r="1.0" fill="#B0334B"/>
<circle cx="45.5" cy="186.2" r="1.0" fill="#B0334B"/>
<circle cx="48.5" cy="188" r="1.0" fill="#B0334B"/>
<circle cx="51" cy="203.6" r="1.0" fill="#B0334B"/>
<circle cx="53.6" cy="207" r="1.0" fill="#B0334B"/>
<circle cx="50" cy="207.2" r="1.0" fill="#B0334B"/>
<circle cx="51.6" cy="214.6" r="1.0" fill="#B0334B"/>
<circle cx="53" cy="214" r="1.0" fill="#B0334B"/>
<circle cx="54.4" cy="215" r="1.0" fill="#B0334B"/>
<circle cx="47" cy="218.6" r="1.0" fill="#B0334B"/>
<circle cx="44.7" cy="224.8" r="1.0" fill="#B0334B"/>
<circle cx="52.1" cy="233.8" r="1.0" fill="#B0334B"/>
<circle cx="45" cy="249.4" r="1.0" fill="#B0334B"/>
<circle cx="46.4" cy="250.6" r="1.0" fill="#B0334B"/>
<circle cx="48" cy="250.2" r="1.0" fill="#B0334B"/>
<circle cx="53.6" cy="247.6" r="1.0" fill="#B0334B"/>
<circle cx="55" cy="249" r="1.0" fill="#B0334B"/>
<circle cx="45.6" cy="251.4" r="1.0" fill="#B0334B"/>
<circle cx="50.4" cy="253.4" r="1.0" fill="#B0334B"/>
<circle cx="44" cy="256" r="1.0" fill="#B0334B"/>
<circle cx="47" cy="256.6" r="1.0" fill="#B0334B"/>
<circle cx="49.6" cy="257.4" r="1.0" fill="#B0334B"/>
<circle cx="47.6" cy="260" r="1.0" fill="#B0334B"/>
<circle cx="50" cy="261" r="1.0" fill="#B0334B"/>
<circle cx="54" cy="262" r="1.0" fill="#B0334B"/>
<circle cx="74" cy="207.6" r="1.0" fill="#3F5C8E"/>
<circle cx="76.6" cy="209.6" r="1.0" fill="#3F5C8E"/>
<circle cx="81.4" cy="217" r="1.0" fill="#3F5C8E"/>
<circle cx="82" cy="221.6" r="1.0" fill="#3F5C8E"/>
<circle cx="77" cy="223.8" r="1.0" fill="#3F5C8E"/>
<circle cx="78.6" cy="224.4" r="1.0" fill="#3F5C8E"/>
<circle cx="80.6" cy="223.6" r="1.0" fill="#3F5C8E"/>
<circle cx="73" cy="229" r="1.0" fill="#3F5C8E"/>
<circle cx="77" cy="232.4" r="1.0" fill="#3F5C8E"/>
<circle cx="73" cy="237" r="1.0" fill="#3F5C8E"/>
<circle cx="78.6" cy="236.6" r="1.0" fill="#3F5C8E"/>
<circle cx="74" cy="241" r="1.0" fill="#3F5C8E"/>
<circle cx="75" cy="242" r="1.0" fill="#3F5C8E"/>
<circle cx="80.6" cy="240" r="1.0" fill="#3F5C8E"/>
<circle cx="82" cy="239" r="1.0" fill="#3F5C8E"/>
<circle cx="72" cy="249" r="1.0" fill="#3F5C8E"/>
<circle cx="73" cy="248" r="1.0" fill="#3F5C8E"/>
<circle cx="78.6" cy="248" r="1.0" fill="#3F5C8E"/>
<circle cx="73" cy="255.6" r="1.0" fill="#3F5C8E"/>
<circle cx="80.6" cy="256.4" r="1.0" fill="#3F5C8E"/>
<circle cx="108" cy="152" r="1.0" fill="#6AAE4D"/>
<circle cx="107.4" cy="179.6" r="1.0" fill="#6AAE4D"/>
<circle cx="100" cy="191.4" r="1.0" fill="#6AAE4D"/>
<circle cx="99.4" cy="195" r="1.0" fill="#6AAE4D"/>
<circle cx="108.6" cy="194.6" r="1.0" fill="#6AAE4D"/>
<circle cx="108" cy="203.4" r="1.0" fill="#6AAE4D"/>
<circle cx="100.9" cy="206.5" r="1.0" fill="#6AAE4D"/>
<circle cx="101.3" cy="204.8" r="1.0" fill="#6AAE4D"/>
<circle cx="105.9" cy="209.8" r="1.0" fill="#6AAE4D"/>
<circle cx="102" cy="226.5" r="1.0" fill="#6AAE4D"/>
<circle cx="103.5" cy="233" r="1.0" fill="#6AAE4D"/>
<circle cx="103" cy="237.4" r="1.0" fill="#6AAE4D"/>
<circle cx="105.7" cy="239" r="1.0" fill="#6AAE4D"/>
<circle cx="106.3" cy="243.5" r="1.0" fill="#6AAE4D"/>
<circle cx="109.1" cy="247.8" r="1.0" fill="#6AAE4D"/>
<circle cx="108.5" cy="253.3" r="1.0" fill="#6AAE4D"/>
<circle cx="104.8" cy="256" r="1.0" fill="#6AAE4D"/>
<circle cx="100.9" cy="258.3" r="1.0" fill="#6AAE4D"/>
<circle cx="105.5" cy="259.5" r="1.0" fill="#6AAE4D"/>
<circle cx="104" cy="260.3" r="1.0" fill="#6AAE4D"/>
<circle cx="131.1" cy="203.7" r="1.0" fill="#E29A3A"/>
<circle cx="129.6" cy="208.7" r="1.0" fill="#E29A3A"/>
<circle cx="127.9" cy="224.3" r="1.0" fill="#E29A3A"/>
<circle cx="129" cy="227.2" r="1.0" fill="#E29A3A"/>
<circle cx="125.3" cy="232.2" r="1.0" fill="#E29A3A"/>
<circle cx="134" cy="233.3" r="1.0" fill="#E29A3A"/>
<circle cx="125.7" cy="236.5" r="1.0" fill="#E29A3A"/>
<circle cx="129.8" cy="238" r="1.0" fill="#E29A3A"/>
<circle cx="130.2" cy="239.2" r="1.0" fill="#E29A3A"/>
<circle cx="136.1" cy="241.3" r="1.0" fill="#E29A3A"/>
<circle cx="128.3" cy="243" r="1.0" fill="#E29A3A"/>
<circle cx="127.3" cy="246.7" r="1.0" fill="#E29A3A"/>
<circle cx="129" cy="246.9" r="1.0" fill="#E29A3A"/>
<circle cx="125.7" cy="251.1" r="1.0" fill="#E29A3A"/>
<circle cx="132.2" cy="249.5" r="1.0" fill="#E29A3A"/>
<circle cx="133.5" cy="251.2" r="1.0" fill="#E29A3A"/>
<circle cx="135.5" cy="252" r="1.0" fill="#E29A3A"/>
<circle cx="129" cy="251.7" r="1.0" fill="#E29A3A"/>
<circle cx="125.7" cy="254.3" r="1.0" fill="#E29A3A"/>
<circle cx="125.3" cy="261.3" r="1.0" fill="#E29A3A"/>
<circle cx="162.6" cy="252.6" r="1.0" fill="#B0334B"/>
<circle cx="164.1" cy="259.5" r="1.0" fill="#B0334B"/>
<circle cx="165" cy="260.6" r="1.0" fill="#B0334B"/>
<circle cx="166.3" cy="261.6" r="1.0" fill="#B0334B"/>
<circle cx="168" cy="260.2" r="1.0" fill="#B0334B"/>
<circle cx="169" cy="258.8" r="1.0" fill="#B0334B"/>
<circle cx="170.2" cy="257.7" r="1.0" fill="#B0334B"/>
<circle cx="171" cy="260" r="1.0" fill="#B0334B"/>
<circle cx="172" cy="261.5" r="1.0" fill="#B0334B"/>
<circle cx="173" cy="260.5" r="1.0" fill="#B0334B"/>
<circle cx="169.3" cy="262.5" r="1.0" fill="#B0334B"/>
<circle cx="167.5" cy="263" r="1.0" fill="#B0334B"/>
<circle cx="162" cy="261" r="1.0" fill="#B0334B"/>
<circle cx="160" cy="260.8" r="1.0" fill="#B0334B"/>
<circle cx="191.6" cy="167.9" r="1.0" fill="#3F5C8E"/>
<circle cx="193.8" cy="167.3" r="1.0" fill="#3F5C8E"/>
<circle cx="199" cy="184.8" r="1.0" fill="#3F5C8E"/>
<circle cx="199.3" cy="192.7" r="1.0" fill="#3F5C8E"/>
<circle cx="199.9" cy="197.2" r="1.0" fill="#3F5C8E"/>
<circle cx="191.1" cy="204.4" r="1.0" fill="#3F5C8E"/>
<circle cx="198.9" cy="204" r="1.0" fill="#3F5C8E"/>
<circle cx="197.9" cy="206.8" r="1.0" fill="#3F5C8E"/>
<circle cx="191.6" cy="220" r="1.0" fill="#3F5C8E"/>
<circle cx="199.3" cy="228.9" r="1.0" fill="#3F5C8E"/>
<circle cx="197.1" cy="232.9" r="1.0" fill="#3F5C8E"/>
<circle cx="193.8" cy="241.7" r="1.0" fill="#3F5C8E"/>
<circle cx="194.2" cy="243.5" r="1.0" fill="#3F5C8E"/>
<circle cx="199" cy="243" r="1.0" fill="#3F5C8E"/>
<circle cx="199.3" cy="248.1" r="1.0" fill="#3F5C8E"/>
<circle cx="199" cy="252.3" r="1.0" fill="#3F5C8E"/>
<circle cx="192.9" cy="253.6" r="1.0" fill="#3F5C8E"/>
<circle cx="191.1" cy="254.9" r="1.0" fill="#3F5C8E"/>
<circle cx="218.6" cy="154" r="1.0" fill="#6AAE4D"/>
<circle cx="218.1" cy="167.4" r="1.0" fill="#6AAE4D"/>
<circle cx="224.5" cy="165" r="1.0" fill="#6AAE4D"/>
<circle cx="226" cy="165" r="1.0" fill="#6AAE4D"/>
<circle cx="226" cy="179.4" r="1.0" fill="#6AAE4D"/>
<circle cx="219.9" cy="183.4" r="1.0" fill="#6AAE4D"/>
<circle cx="223.6" cy="198.4" r="1.0" fill="#6AAE4D"/>
<circle cx="224.5" cy="198" r="1.0" fill="#6AAE4D"/>
<circle cx="225.4" cy="203.2" r="1.0" fill="#6AAE4D"/>
<circle cx="218" cy="206.7" r="1.0" fill="#6AAE4D"/>
<circle cx="226.7" cy="206.7" r="1.0" fill="#6AAE4D"/>
<circle cx="226" cy="208.7" r="1.0" fill="#6AAE4D"/>
<circle cx="226.9" cy="217" r="1.0" fill="#6AAE4D"/>
<circle cx="217.6" cy="223.3" r="1.0" fill="#6AAE4D"/>
<circle cx="227.3" cy="224.7" r="1.0" fill="#6AAE4D"/>
<circle cx="219.7" cy="229" r="1.0" fill="#6AAE4D"/>
<circle cx="223.7" cy="232.3" r="1.0" fill="#6AAE4D"/>
<circle cx="221" cy="234.4" r="1.0" fill="#6AAE4D"/>
<circle cx="245.1" cy="187.9" r="1.0" fill="#E29A3A"/>
<circle cx="253.6" cy="184.2" r="1.0" fill="#E29A3A"/>
<circle cx="245.9" cy="197" r="1.0" fill="#E29A3A"/>
<circle cx="245.1" cy="204.6" r="1.0" fill="#E29A3A"/>
<circle cx="248.2" cy="229.6" r="1.0" fill="#E29A3A"/>
<circle cx="243.8" cy="251" r="1.0" fill="#E29A3A"/>
<circle cx="253.8" cy="254.5" r="1.0" fill="#E29A3A"/>
<circle cx="248" cy="257.5" r="1.0" fill="#E29A3A"/>
<circle cx="250" cy="259" r="1.0" fill="#E29A3A"/>
<circle cx="251" cy="260" r="1.0" fill="#E29A3A"/>
<circle cx="245.5" cy="261.5" r="1.0" fill="#E29A3A"/>
<circle cx="246" cy="262.2" r="1.0" fill="#E29A3A"/>
<circle cx="253.8" cy="262.2" r="1.0" fill="#E29A3A"/>
<circle cx="249" cy="261" r="1.0" fill="#E29A3A"/>
<circle cx="282.5" cy="235" r="1.0" fill="#B0334B"/>
<circle cx="281" cy="253.7" r="1.0" fill="#B0334B"/>
<circle cx="288.8" cy="251" r="1.0" fill="#B0334B"/>
<circle cx="282.5" cy="258.4" r="1.0" fill="#B0334B"/>
<circle cx="283" cy="261.5" r="1.0" fill="#B0334B"/>
<circle cx="285.6" cy="259" r="1.0" fill="#B0334B"/>
<circle cx="287" cy="260.5" r="1.0" fill="#B0334B"/>
<circle cx="288.2" cy="262" r="1.0" fill="#B0334B"/>
<circle cx="289.5" cy="259.5" r="1.0" fill="#B0334B"/>
<circle cx="286.3" cy="262.2" r="1.0" fill="#B0334B"/>
<circle cx="281.8" cy="262" r="1.0" fill="#B0334B"/>
<circle cx="291" cy="261" r="1.0" fill="#B0334B"/>
<circle cx="279.5" cy="259" r="1.0" fill="#B0334B"/>
<circle cx="281" cy="261.5" r="1.0" fill="#B0334B"/>
<circle cx="284" cy="262.5" r="1.0" fill="#B0334B"/>
<circle cx="290.5" cy="259.8" r="1.0" fill="#B0334B"/>
<circle cx="292" cy="261" r="1.0" fill="#B0334B"/>
<circle cx="285" cy="257.6" r="1.0" fill="#B0334B"/>
<circle cx="316" cy="168.6" r="1.0" fill="#3F5C8E"/>
<circle cx="316.9" cy="202.6" r="1.0" fill="#3F5C8E"/>
<circle cx="316.2" cy="218.4" r="1.0" fill="#3F5C8E"/>
<circle cx="313.4" cy="228.6" r="1.0" fill="#3F5C8E"/>
<circle cx="311.3" cy="231" r="1.0" fill="#3F5C8E"/>
<circle cx="315.6" cy="231" r="1.0" fill="#3F5C8E"/>
<circle cx="313" cy="234.6" r="1.0" fill="#3F5C8E"/>
<circle cx="309.1" cy="242.6" r="1.0" fill="#3F5C8E"/>
<circle cx="314.7" cy="242.6" r="1.0" fill="#3F5C8E"/>
<circle cx="308.2" cy="246" r="1.0" fill="#3F5C8E"/>
<circle cx="310.8" cy="246.5" r="1.0" fill="#3F5C8E"/>
<circle cx="313.4" cy="246.5" r="1.0" fill="#3F5C8E"/>
<circle cx="315.6" cy="246" r="1.0" fill="#3F5C8E"/>
<circle cx="317.8" cy="245.2" r="1.0" fill="#3F5C8E"/>
<circle cx="315.2" cy="249.4" r="1.0" fill="#3F5C8E"/>
<circle cx="309.7" cy="254.5" r="1.0" fill="#3F5C8E"/>
<circle cx="312" cy="255.8" r="1.0" fill="#3F5C8E"/>
<circle cx="313" cy="258.4" r="1.0" fill="#3F5C8E"/>
<circle cx="316.9" cy="258.4" r="1.0" fill="#3F5C8E"/>
<circle cx="313" cy="261.7" r="1.0" fill="#3F5C8E"/>
<circle cx="335.4" cy="158" r="1.0" fill="#6AAE4D"/>
<circle cx="343" cy="162" r="1.0" fill="#6AAE4D"/>
<circle cx="344.6" cy="167.6" r="1.0" fill="#6AAE4D"/>
<circle cx="338.6" cy="170.6" r="1.0" fill="#6AAE4D"/>
<circle cx="336" cy="174.4" r="1.0" fill="#6AAE4D"/>
<circle cx="342.4" cy="175.4" r="1.0" fill="#6AAE4D"/>
<circle cx="335.4" cy="195.6" r="1.0" fill="#6AAE4D"/>
<circle cx="342.6" cy="193" r="1.0" fill="#6AAE4D"/>
<circle cx="337" cy="209.7" r="1.0" fill="#6AAE4D"/>
<circle cx="342" cy="208.7" r="1.0" fill="#6AAE4D"/>
<circle cx="339.5" cy="212.5" r="1.0" fill="#6AAE4D"/>
<circle cx="340.7" cy="218" r="1.0" fill="#6AAE4D"/>
<circle cx="342.8" cy="233.3" r="1.0" fill="#6AAE4D"/>
<circle cx="344.5" cy="236.7" r="1.0" fill="#6AAE4D"/>
<circle cx="337.8" cy="239.2" r="1.0" fill="#6AAE4D"/>
<circle cx="336.2" cy="242" r="1.0" fill="#6AAE4D"/>
<circle cx="343.7" cy="244.2" r="1.0" fill="#6AAE4D"/>
<circle cx="362.4" cy="162.6" r="1.0" fill="#E29A3A"/>
<circle cx="364" cy="163.6" r="1.0" fill="#E29A3A"/>
<circle cx="368" cy="172.6" r="1.0" fill="#E29A3A"/>
<circle cx="372" cy="191.4" r="1.0" fill="#E29A3A"/>
<circle cx="365.3" cy="211.9" r="1.0" fill="#E29A3A"/>
<circle cx="370.9" cy="210.8" r="1.0" fill="#E29A3A"/>
<circle cx="365.9" cy="227" r="1.0" fill="#E29A3A"/>
<circle cx="365.9" cy="237.2" r="1.0" fill="#E29A3A"/>
<circle cx="364.8" cy="242.2" r="1.0" fill="#E29A3A"/>
<circle cx="368.1" cy="247.2" r="1.0" fill="#E29A3A"/>
<circle cx="363.7" cy="254" r="1.0" fill="#E29A3A"/>
<circle cx="367" cy="255.2" r="1.0" fill="#E29A3A"/>
<circle cx="371.3" cy="254" r="1.0" fill="#E29A3A"/>
<circle cx="366" cy="257.3" r="1.0" fill="#E29A3A"/>
<circle cx="362.7" cy="259.5" r="1.0" fill="#E29A3A"/>
<circle cx="404.8" cy="225.2" r="1.0" fill="#B0334B"/>
<circle cx="401.5" cy="251.2" r="1.0" fill="#B0334B"/>
<circle cx="406" cy="253.7" r="1.0" fill="#B0334B"/>
<circle cx="398.5" cy="260.8" r="1.0" fill="#B0334B"/>
<circle cx="404.5" cy="260.8" r="1.0" fill="#B0334B"/>
<circle cx="409.7" cy="259.7" r="1.0" fill="#B0334B"/>
<circle cx="435.7" cy="218.2" r="1.0" fill="#3F5C8E"/>
<circle cx="435.7" cy="235.3" r="1.0" fill="#3F5C8E"/>
<circle cx="426.8" cy="248.2" r="1.0" fill="#3F5C8E"/>
<circle cx="429" cy="249.5" r="1.0" fill="#3F5C8E"/>
<circle cx="430.7" cy="250" r="1.0" fill="#3F5C8E"/>
<circle cx="433" cy="246.5" r="1.0" fill="#3F5C8E"/>
<circle cx="433" cy="259.3" r="1.0" fill="#3F5C8E"/>
<circle cx="435.3" cy="261.5" r="1.0" fill="#3F5C8E"/>
<circle cx="460" cy="152" r="1.0" fill="#6AAE4D"/>
<circle cx="456" cy="169.6" r="1.0" fill="#6AAE4D"/>
<circle cx="457" cy="180.6" r="1.0" fill="#6AAE4D"/>
<circle cx="463.3" cy="207.7" r="1.0" fill="#6AAE4D"/>
<circle cx="462.6" cy="239.2" r="1.0" fill="#6AAE4D"/>
<circle cx="454.5" cy="246" r="1.0" fill="#6AAE4D"/>
<circle cx="456.8" cy="248.5" r="1.0" fill="#6AAE4D"/>
<circle cx="482.4" cy="152.6" r="1.0" fill="#E29A3A"/>
<circle cx="484.4" cy="156" r="1.0" fill="#E29A3A"/>
<circle cx="490.8" cy="217" r="1.0" fill="#E29A3A"/>
<circle cx="489.7" cy="236.6" r="1.0" fill="#E29A3A"/>
<circle cx="481.3" cy="242.4" r="1.0" fill="#E29A3A"/>
<circle cx="482.4" cy="250.8" r="1.0" fill="#E29A3A"/>
<circle cx="487.3" cy="256.6" r="1.0" fill="#E29A3A"/>
<circle cx="482" cy="260.6" r="1.0" fill="#E29A3A"/>
<rect x="0" y="0" width="520" height="1.3" fill="#555"/>
<rect x="0" y="0" width="1.7" height="300" fill="#3a3a3a"/>
<rect x="518.3" y="0" width="1.7" height="300" fill="#333"/>
<rect x="0" y="298.8" width="520" height="1.2" fill="#111"/>
</svg>
</body></html>
